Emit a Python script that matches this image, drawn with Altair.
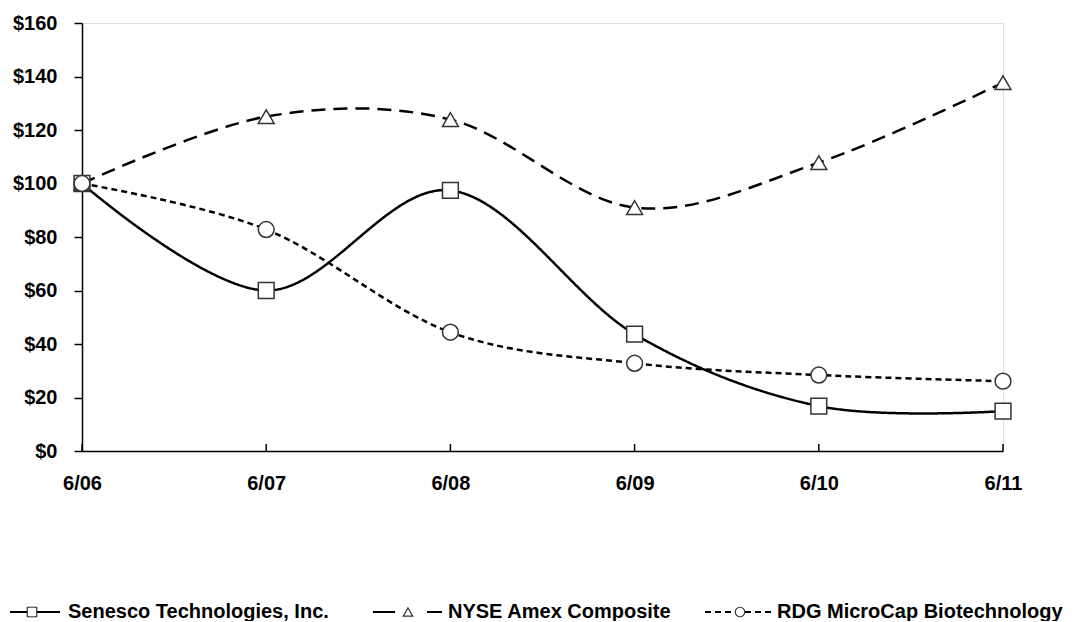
import altair as alt
import pandas as pd

dates = ["6/06", "6/07", "6/08", "6/09", "6/10", "6/11"]
series_names = ["Senesco Technologies, Inc.", "NYSE Amex Composite", "RDG MicroCap Biotechnology"]
senesco = [100, 60.0, 97.4, 43.7, 16.8, 14.9]
nyse = [100, 125.0, 123.9, 91.0, 107.8, 137.7]
rdg = [100, 82.8, 44.4, 32.8, 28.4, 26.1]
y_ticks = [0, 20, 40, 60, 80, 100, 120, 140, 160]

rows = []
for name, vals in zip(series_names, [senesco, nyse, rdg]):
    for d, v in zip(dates, vals):
        rows.append({"date": d, "value": v, "series": name})
df = pd.DataFrame(rows)

FONT = "Liberation Sans"
FS = 20
W, H = 921, 428

dashes = [[1, 0], [14, 8], [6, 4]]
legend_dashes = [[1, 0], [22, 32, 15, 0], [6, 4]]
shapes = ["square", "triangle-up", "circle"]

x_enc = alt.X(
    "date:O", sort=dates,
    scale=alt.Scale(type="point", padding=0),
    axis=alt.Axis(title=None, labelAngle=0, ticks=False, domainColor="#000", domainWidth=1.5,
                  labelFont=FONT, labelFontSize=FS, labelFontWeight="bold", labelColor="#000",
                  labelPadding=22, grid=False),
)
y_enc = alt.Y(
    "value:Q",
    scale=alt.Scale(domain=[0, 160], nice=False),
    axis=alt.Axis(title=None, values=y_ticks, labelExpr="'$' + datum.value", grid=False,
                  tickSize=8, tickColor="#000", tickWidth=1.5, domainColor="#000", domainWidth=1.5,
                  labelFont=FONT, labelFontSize=FS, labelFontWeight="bold", labelColor="#000",
                  labelPadding=17),
)

lines = alt.Chart(df).mark_line(interpolate="cardinal", color="#000", strokeWidth=2.5).encode(
    x=x_enc, y=y_enc,
    strokeDash=alt.StrokeDash("series:N", scale=alt.Scale(domain=series_names, range=dashes), legend=None),
    detail="series:N",
)
points = alt.Chart(df).mark_point(filled=True, fill="white", stroke="#333", strokeWidth=1.5, size=250, opacity=1).encode(
    x=x_enc, y=y_enc,
    shape=alt.Shape("series:N", scale=alt.Scale(domain=series_names, range=shapes), legend=None),
)
xticks = alt.Chart(pd.DataFrame({"date": dates})).mark_rule(color="#000", strokeWidth=1.5).encode(
    x=x_enc, y=alt.value(H), y2=alt.value(H - 7)
)

# custom legend below the plot
leg_y = 589
leg_items = [
    # (line x0, line x1, marker x, text x)
    (-72, -22, -50, -14),
    (291, 360, 326, 366),
    (623, 690, 658, 695),
]
legend_layers = []
for name, dash, shp, (lx0, lx1, mx, tx) in zip(series_names, legend_dashes, shapes, leg_items):
    one = pd.DataFrame({"label": [name]})
    legend_layers.append(
        alt.Chart(one).mark_rule(color="#000", strokeWidth=2, strokeDash=dash).encode(
            x=alt.value(lx0), x2=alt.value(lx1), y=alt.value(leg_y)
        )
    )
    legend_layers.append(
        alt.Chart(one).mark_point(shape=shp, filled=True, fill="white", stroke="#333", strokeWidth=1.2,
                                  size=90, opacity=1).encode(x=alt.value(mx), y=alt.value(leg_y))
    )
    legend_layers.append(
        alt.Chart(one).mark_text(align="left", baseline="middle", font=FONT, fontSize=FS, fontWeight="bold",
                                 color="#000").encode(x=alt.value(tx), y=alt.value(leg_y), text="label:N")
    )

chart = alt.layer(lines, xticks, points, *legend_layers).properties(
    width=W, height=H,
    autosize=alt.AutoSizeParams(type="none"),
    padding={"left": 74, "top": 15, "right": 71, "bottom": 170},
).configure_view(stroke=None).configure(background="white")

chart.save("out.html", embed_options={"renderer": "svg", "actions": False})
